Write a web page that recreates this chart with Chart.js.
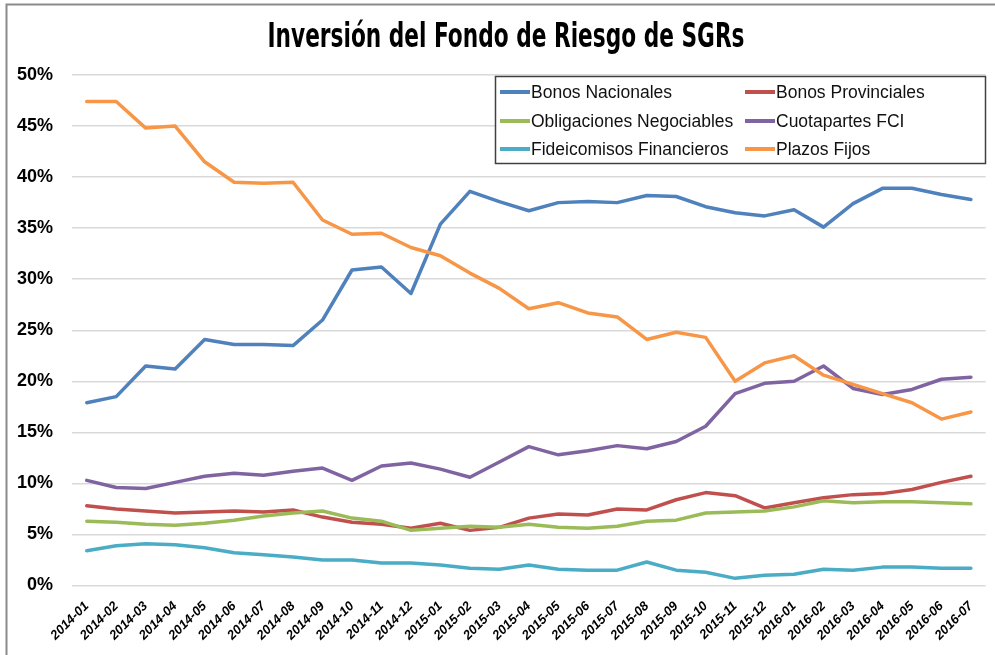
<!DOCTYPE html>
<html>
<head>
<meta charset="utf-8">
<script src="https://cdn.jsdelivr.net/npm/chart.js@4.4.1/dist/chart.umd.min.js"></script>
<style>
html,body{margin:0;padding:0;background:#fff;}
#wrap{width:995px;height:655px;position:relative;}
canvas{display:block;}
</style>
</head>
<body>
<div id="wrap"><canvas id="c" width="995" height="655"></canvas></div>
<script>
const chartTitle = 'Inversión del Fondo de Riesgo de SGRs';
const categories = ['2014-01','2014-02','2014-03','2014-04','2014-05','2014-06','2014-07','2014-08','2014-09','2014-10','2014-11','2014-12',
  '2015-01','2015-02','2015-03','2015-04','2015-05','2015-06','2015-07','2015-08','2015-09','2015-10','2015-11','2015-12',
  '2016-01','2016-02','2016-03','2016-04','2016-05','2016-06','2016-07'];
const seriesNames = ['Bonos Nacionales','Bonos Provinciales','Obligaciones Negociables','Cuotapartes FCI','Fideicomisos Financieros','Plazos Fijos'];
const bonosNacionales = [17.9,18.5,21.5,21.2,24.1,23.6,23.6,23.5,26.0,30.9,31.2,28.6,35.4,38.6,37.6,36.7,37.5,37.6,37.5,38.2,38.1,37.1,36.5,36.2,36.8,35.1,37.4,38.9,38.9,38.3,37.8];
const bonosProvinciales = [7.8,7.5,7.3,7.1,7.2,7.3,7.2,7.4,6.7,6.2,6.0,5.6,6.1,5.4,5.7,6.6,7.0,6.9,7.5,7.4,8.4,9.1,8.8,7.6,8.1,8.6,8.9,9.0,9.4,10.1,10.7];
const obligacionesNegociables = [6.3,6.2,6.0,5.9,6.1,6.4,6.8,7.1,7.3,6.6,6.3,5.4,5.6,5.8,5.7,6.0,5.7,5.6,5.8,6.3,6.4,7.1,7.2,7.3,7.7,8.3,8.1,8.2,8.2,8.1,8.0];
const cuotapartesFCI = [10.3,9.6,9.5,10.1,10.7,11.0,10.8,11.2,11.5,10.3,11.7,12.0,11.4,10.6,12.1,13.6,12.8,13.2,13.7,13.4,14.1,15.6,18.8,19.8,20.0,21.5,19.3,18.7,19.2,20.2,20.4];
const fideicomisosFinancieros = [3.4,3.9,4.1,4.0,3.7,3.2,3.0,2.8,2.5,2.5,2.2,2.2,2.0,1.7,1.6,2.0,1.6,1.5,1.5,2.3,1.5,1.3,0.7,1.0,1.1,1.6,1.5,1.8,1.8,1.7,1.7];
const plazosFijos = [47.4,47.4,44.8,45.0,41.5,39.5,39.4,39.5,35.8,34.4,34.5,33.1,32.3,30.6,29.1,27.1,27.7,26.7,26.3,24.1,24.8,24.3,20.0,21.8,22.5,20.6,19.7,18.8,17.9,16.3,17.0];
const yTickValues = [0,5,10,15,20,25,30,35,40,45,50];
const colors = ['#4F81BD','#C0504D','#9BBB59','#8064A2','#4BACC6','#F79646'];

const seriesData = [bonosNacionales,bonosProvinciales,obligacionesNegociables,cuotapartesFCI,fideicomisosFinancieros,plazosFijos];
const datasets = seriesNames.map((n,i)=>({
  label:n, data:seriesData[i], borderColor:colors[i], backgroundColor:colors[i],
  borderWidth:3.5, pointRadius:0, tension:0, fill:false, order:5-i,
  borderCapStyle:'round', borderJoinStyle:'round'
}));

const decorPlugin = {
  id:'decor',
  beforeDraw(chart){
    const ctx = chart.ctx;
    ctx.save();
    ctx.fillStyle='#fff';
    ctx.fillRect(0,0,chart.width,chart.height);
    ctx.strokeStyle='#8a8a8a';
    ctx.lineWidth=2;
    ctx.beginPath();
    ctx.moveTo(6.5,chart.height+2);
    ctx.lineTo(6.5,4.5);
    ctx.lineTo(chart.width+2,4.5);
    ctx.stroke();
    ctx.restore();
  },
  afterDraw(chart){
    const ctx = chart.ctx;
    ctx.save();
    ctx.font = "bold 34px 'DejaVu Sans Condensed', 'DejaVu Sans'";
    ctx.fillStyle = '#000';
    ctx.textBaseline = 'alphabetic';
    ctx.textAlign = 'left';
    const w = ctx.measureText(chartTitle).width;
    const targetW = 477;
    const sx = targetW / w;
    ctx.translate(506 - targetW/2, 47);
    ctx.scale(sx, 1);
    ctx.fillText(chartTitle, 0, 0);
    ctx.restore();

    ctx.save();
    ctx.fillStyle='#fff';
    ctx.fillRect(495.5,76.5,490,87);
    ctx.strokeStyle='#404040';
    ctx.lineWidth=1.5;
    ctx.strokeRect(495.5,76.5,490,87);
    const colX=[500,745];
    const rowY=[92,121,149];
    ctx.font="17.5px 'Liberation Sans'";
    ctx.textBaseline='middle';
    ctx.textAlign='left';
    chart.data.datasets.forEach((ds,i)=>{
      const x=colX[i%2], y=rowY[Math.floor(i/2)];
      ctx.strokeStyle=ds.borderColor;
      ctx.lineWidth=4;
      ctx.beginPath();
      ctx.moveTo(x,y);ctx.lineTo(x+30,y);ctx.stroke();
      ctx.fillStyle='#111';
      ctx.fillText(ds.label,x+31,y+1);
    });
    ctx.restore();
  }
};

new Chart(document.getElementById('c'),{
  type:'line',
  data:{labels:categories,datasets},
  options:{
    responsive:false,
    animation:false,
    devicePixelRatio:1,
    layout:{padding:{top:75,right:3,left:0,bottom:0}},
    plugins:{legend:{display:false},title:{display:false},tooltip:{enabled:false}},
    scales:{
      x:{
        type:'category',
        offset:true,
        grid:{display:false,drawTicks:false},
        border:{display:false},
        ticks:{
          autoSkip:false,maxRotation:45,minRotation:45,padding:13,
          color:'#000',font:{family:"'Liberation Sans'",size:13,weight:'bold',style:'italic'}
        },
        afterFit(s){s.height=69.5;}
      },
      y:{
        min:0,max:50,
        afterBuildTicks(s){s.ticks=yTickValues.map(v=>({value:v}));},
        grid:{color:'#d9d9d9',lineWidth:1.5,drawTicks:false},
        border:{display:false},
        ticks:{
          padding:19,color:'#000',
          font:{family:"'Liberation Sans'",size:18,weight:'bold'},
          callback:v=>v+'%'
        },
        afterFit(s){s.width=72;}
      }
    }
  },
  plugins:[decorPlugin]
});
</script>
</body>
</html>
